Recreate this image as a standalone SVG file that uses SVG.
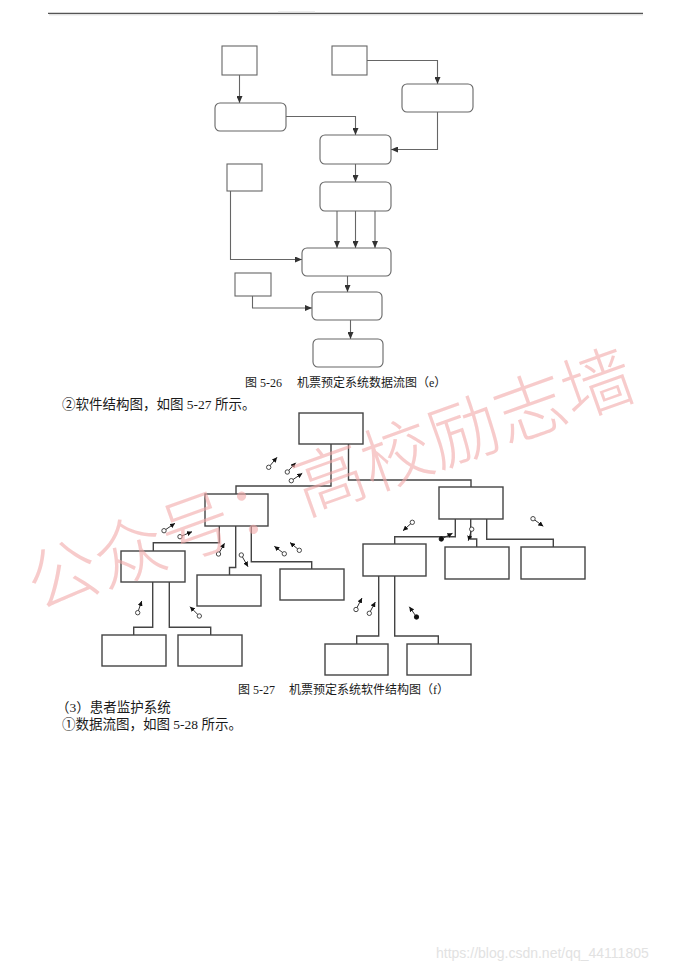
<svg xmlns="http://www.w3.org/2000/svg" width="688" height="972" viewBox="0 0 688 972">
<style>
.dbox{fill:#fff;stroke:#666;stroke-width:1.1}
.sbox{fill:#fff;stroke:#444;stroke-width:1.4}
.dl{fill:none;stroke:#666;stroke-width:1.1}
.sl{fill:none;stroke:#444;stroke-width:1.4}
.cl{fill:none;stroke:#333;stroke-width:1}
.oc{fill:#fff;stroke:#333;stroke-width:0.9}
.fc{fill:#111;stroke:#111;stroke-width:0.9}
.cap{font-family:"Liberation Serif","Noto Sans CJK SC",serif;font-size:12px;fill:#1a1a1a}
.body{font-family:"Liberation Serif","Noto Sans CJK SC",serif;font-size:13.5px;fill:#1a1a1a}
.wm{font-family:"Noto Sans CJK SC",sans-serif;font-size:71px;font-weight:200;fill:#f2a8a8;fill-opacity:0.6}
</style>
<defs>
<marker id="ah" markerUnits="userSpaceOnUse" markerWidth="7" markerHeight="6" refX="7" refY="3" orient="auto"><path d="M0,0 L7,3 L0,6 z" fill="#333"/></marker>
<marker id="sh" markerUnits="userSpaceOnUse" markerWidth="5" markerHeight="5" refX="5" refY="2.5" orient="auto"><path d="M0,0 L5,2.5 L0,5 z" fill="#111"/></marker>
</defs>
<rect width="688" height="972" fill="#fff"/>
<g id="header">
<line x1="48" y1="13.3" x2="643" y2="13.3" stroke="#555" stroke-width="1.3"/>
<line x1="49" y1="14.8" x2="643" y2="14.8" stroke="#ccc" stroke-width="0.8"/>
<line x1="278" y1="12" x2="315" y2="12" stroke="#ddd" stroke-width="1"/>
</g>
<g id="dfd-connectors">
<path class="dl" d="M239.5,75 V103" marker-end="url(#ah)"/>
<path class="dl" d="M367,60.5 H437.5 V84" marker-end="url(#ah)"/>
<path class="dl" d="M286,116.5 H355.5 V135" marker-end="url(#ah)"/>
<path class="dl" d="M437.5,112 V149.5 H391" marker-end="url(#ah)"/>
<path class="dl" d="M355.5,164 V182" marker-end="url(#ah)"/>
<path class="dl" d="M337,211 V248" marker-end="url(#ah)"/>
<path class="dl" d="M355.5,211 V248" marker-end="url(#ah)"/>
<path class="dl" d="M375,211 V248" marker-end="url(#ah)"/>
<path class="dl" d="M230.5,191 V259.5 H302" marker-end="url(#ah)"/>
<path class="dl" d="M347.5,276 V292" marker-end="url(#ah)"/>
<path class="dl" d="M252.5,296 V308 H312" marker-end="url(#ah)"/>
<path class="dl" d="M350.5,320 V339" marker-end="url(#ah)"/>
</g>
<g id="dfd-a"><rect class="dbox" x="222" y="46" width="35" height="29"/></g>
<g id="dfd-b"><rect class="dbox" x="332" y="46" width="35" height="29"/></g>
<g id="dfd-c"><rect class="dbox" x="215" y="103" width="71" height="28" rx="5"/></g>
<g id="dfd-d"><rect class="dbox" x="402" y="84" width="71" height="28" rx="5"/></g>
<g id="dfd-e"><rect class="dbox" x="320" y="135" width="71" height="29" rx="5"/></g>
<g id="dfd-f"><rect class="dbox" x="320" y="182" width="71" height="29" rx="5"/></g>
<g id="dfd-h"><rect class="dbox" x="227" y="164" width="35" height="27"/></g>
<g id="dfd-g"><rect class="dbox" x="302" y="248" width="89" height="28" rx="5"/></g>
<g id="dfd-j"><rect class="dbox" x="235" y="273" width="36" height="23"/></g>
<g id="dfd-i"><rect class="dbox" x="312" y="292" width="70" height="28" rx="5"/></g>
<g id="dfd-k"><rect class="dbox" x="313" y="339" width="70" height="28" rx="5"/></g>
<g id="texts">
<text class="cap" y="387"><tspan x="245">图 5-26</tspan><tspan x="297">机票预定系统数据流图（e）</tspan></text>
<text class="body" x="62" y="409">②软件结构图，如图 5-27 所示。</text>
<text class="cap" y="694"><tspan x="238">图 5-27</tspan><tspan x="289">机票预定系统软件结构图（f）</tspan></text>
<text class="body" x="56" y="712">（3）患者监护系统</text>
<text class="body" x="62" y="729">①数据流图，如图 5-28 所示。</text>
</g>
<g id="sc-connectors">
<path class="sl" d="M331,444 V486 H236 V494"/>
<path class="sl" d="M348.5,444 V480 H471 V487"/>
<path class="sl" d="M219.3,526 V542.7 H153.3 V551"/>
<path class="sl" d="M235.7,526 V567.5 H229.5 V575"/>
<path class="sl" d="M251.3,526 V561.7 H311.7 V569"/>
<path class="sl" d="M152.7,582 V627.3 H133.7 V635"/>
<path class="sl" d="M169.3,582 V627.3 H210.7 V635"/>
<path class="sl" d="M455.3,519 V536.7 H394.7 V544"/>
<path class="sl" d="M470.7,519 V539 H476.7 V547"/>
<path class="sl" d="M486.7,519 V539.3 H553.3 V547"/>
<path class="sl" d="M378.7,576 V636 H356.7 V644"/>
<path class="sl" d="M394.7,576 V636 H438.3 V644"/>
</g>
<g id="sc-top"><rect class="sbox" x="299" y="413" width="64" height="31"/></g>
<g id="sc-a2"><rect class="sbox" x="205" y="494" width="63" height="32"/></g>
<g id="sc-b2"><rect class="sbox" x="439" y="487" width="64" height="32"/></g>
<g id="sc-j3"><rect class="sbox" x="121" y="551" width="64" height="31"/></g>
<g id="sc-h3"><rect class="sbox" x="197" y="575" width="64" height="31"/></g>
<g id="sc-i3"><rect class="sbox" x="280" y="569" width="64" height="31"/></g>
<g id="sc-c3"><rect class="sbox" x="363" y="544" width="63" height="32"/></g>
<g id="sc-d3"><rect class="sbox" x="445" y="547" width="64" height="32"/></g>
<g id="sc-e3"><rect class="sbox" x="521" y="547" width="64" height="32"/></g>
<g id="sc-k4"><rect class="sbox" x="102" y="635" width="64" height="31"/></g>
<g id="sc-l4"><rect class="sbox" x="178" y="635" width="64" height="31"/></g>
<g id="sc-f4"><rect class="sbox" x="325" y="644" width="63" height="31"/></g>
<g id="sc-g4"><rect class="sbox" x="407" y="644" width="64" height="31"/></g>
<g id="couples">
<path class="cl" d="M268.7,467.3 L277,457.3" marker-end="url(#sh)"/><circle class="oc" cx="268.7" cy="467.3" r="2.2"/>
<path class="cl" d="M287.3,472 L295.7,462.7" marker-end="url(#sh)"/><circle class="oc" cx="287.3" cy="472" r="2.2"/>
<path class="cl" d="M291.3,480.7 L302.3,473.3" marker-end="url(#sh)"/><circle class="oc" cx="291.3" cy="480.7" r="2.2"/>
<path class="cl" d="M164,530.7 L175,523.3" marker-end="url(#sh)"/><circle class="oc" cx="164" cy="530.7" r="2.2"/>
<path class="cl" d="M180,536.7 L192,531.7" marker-end="url(#sh)"/><circle class="oc" cx="180" cy="536.7" r="2.2"/>
<path class="cl" d="M218.5,554 L224.5,543.3" marker-end="url(#sh)"/><circle class="oc" cx="218.5" cy="554" r="2.2"/>
<path class="cl" d="M241.3,555 L248,566.7" marker-end="url(#sh)"/><circle class="oc" cx="241.3" cy="555" r="2.2"/>
<path class="cl" d="M284.3,553.8 L274.3,546.3" marker-end="url(#sh)"/><circle class="oc" cx="284.3" cy="553.8" r="2.2"/>
<path class="cl" d="M299.3,550.3 L290,542.5" marker-end="url(#sh)"/><circle class="oc" cx="299.3" cy="550.3" r="2.2"/>
<path class="cl" d="M137.7,612.7 L141.7,601" marker-end="url(#sh)"/><circle class="oc" cx="137.7" cy="612.7" r="2.2"/>
<path class="cl" d="M199.3,616 L190,606.7" marker-end="url(#sh)"/><circle class="oc" cx="199.3" cy="616" r="2.2"/>
<path class="cl" d="M356,609.5 L362,598" marker-end="url(#sh)"/><circle class="oc" cx="356" cy="609.5" r="2.2"/>
<path class="cl" d="M369.3,613.3 L375.3,602" marker-end="url(#sh)"/><circle class="oc" cx="369.3" cy="613.3" r="2.2"/>
<path class="cl" d="M416.5,617 L409.3,606.7" marker-end="url(#sh)"/><circle class="fc" cx="416.5" cy="617" r="2.2"/>
<path class="cl" d="M412.3,522.3 L403,530.7" marker-end="url(#sh)"/><circle class="oc" cx="412.3" cy="522.3" r="2.2"/>
<path class="cl" d="M441.3,539 L452.5,533.3" marker-end="url(#sh)"/><circle class="fc" cx="441.3" cy="539" r="2.2"/>
<path class="cl" d="M471.7,529.2 L468.3,540.7" marker-end="url(#sh)"/><circle class="oc" cx="471.7" cy="529.2" r="2.2"/>
<path class="cl" d="M533,518.7 L543.3,526.3" marker-end="url(#sh)"/><circle class="oc" cx="533" cy="518.7" r="2.2"/>
</g>
<g id="watermark">
<text class="wm" transform="translate(65,575) rotate(-19.7)" x="-38" y="25">公众号：高校励志墙</text>
<text x="436" y="958" font-family="'Liberation Sans',sans-serif" font-size="14" fill="#e2e2e2">https://blog.csdn.net/qq_44111805</text>
</g>
</svg>
